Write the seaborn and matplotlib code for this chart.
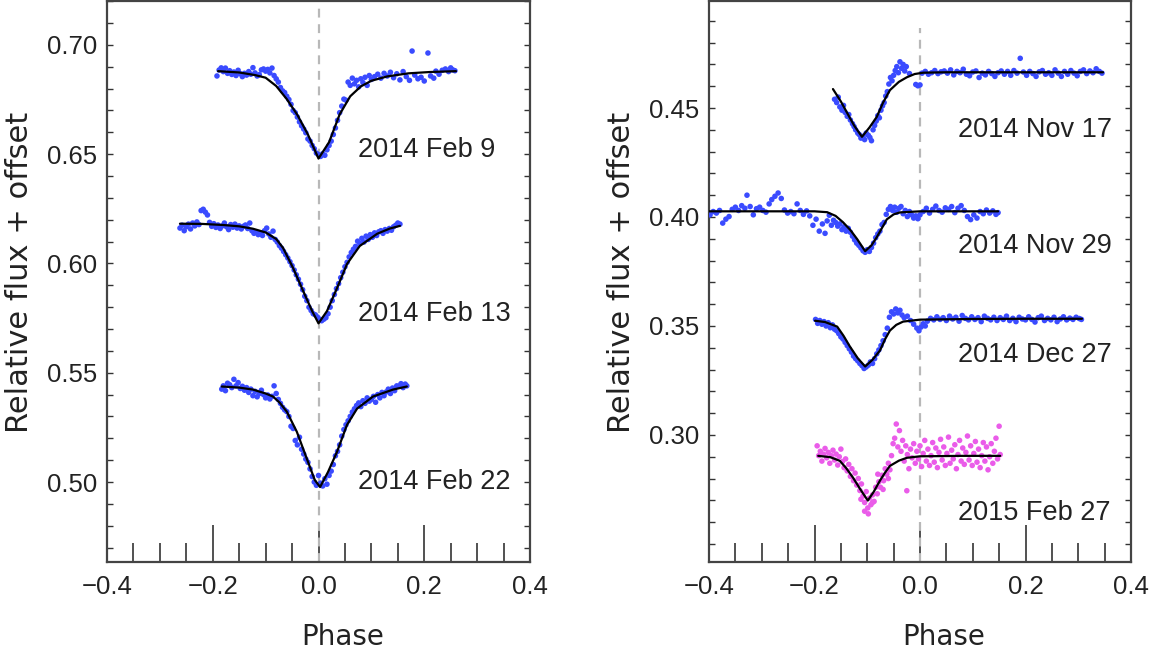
import matplotlib
matplotlib.use("Agg")
import matplotlib.pyplot as plt
import seaborn as sns
import pandas as pd
import numpy as np
from matplotlib.ticker import MultipleLocator

# ---------------- data ----------------
# 2014 Feb 9
feb9_fit_x = [-0.19, -0.15, -0.12, -0.10, -0.08, -0.06, -0.04, -0.02, 0.0, 0.02, 0.04, 0.06, 0.08, 0.10, 0.13, 0.17, 0.21, 0.26]
feb9_fit_y = [0.6880, 0.6874, 0.6862, 0.6850, 0.6812, 0.6752, 0.6680, 0.6590, 0.6480, 0.6555, 0.6682, 0.6765, 0.6810, 0.6836, 0.6856, 0.6870, 0.6876, 0.6880]
feb9_pts = [(-0.192,0.6858),(-0.188,0.6885),(-0.184,0.6895),(-0.180,0.6878),(-0.176,0.6894),(-0.172,0.6870),(-0.168,0.6882),(-0.164,0.6865),(-0.160,0.6876),(-0.156,0.6860),(-0.152,0.6884),(-0.148,0.6868),(-0.144,0.6855),(-0.140,0.6870),(-0.136,0.6862),(-0.132,0.6878),(-0.128,0.6866),(-0.124,0.6896),(-0.120,0.6872),(-0.116,0.6858),(-0.112,0.6864),(-0.108,0.6886),(-0.104,0.6890),(-0.100,0.6880),(-0.096,0.6888),(-0.092,0.6872),(-0.088,0.6894),(-0.084,0.6860),(-0.080,0.6845),(-0.076,0.6830),
            (-0.072,0.6805),(-0.068,0.6790),(-0.064,0.6782),(-0.060,0.6765),(-0.056,0.6750),(-0.052,0.6728),(-0.048,0.6700),(-0.044,0.6690),(-0.040,0.6670),(-0.036,0.6648),(-0.032,0.6630),(-0.028,0.6615),(-0.024,0.6598),(-0.020,0.6570),(-0.016,0.6560),(-0.012,0.6540),(-0.008,0.6525),(-0.004,0.6505),(0.000,0.6498),(0.004,0.6490),(0.008,0.6502),(0.012,0.6495),(0.016,0.6520),(0.020,0.6540),(0.024,0.6560),(0.028,0.6590),(0.032,0.6620),(0.036,0.6655),(0.040,0.6690),(0.044,0.6720),(0.048,0.6752),(0.052,0.6747),
            (0.056,0.6830),(0.060,0.6815),(0.064,0.6848),(0.068,0.6822),(0.072,0.6838),(0.076,0.6808),(0.080,0.6845),(0.084,0.6828),(0.088,0.6852),(0.092,0.6815),(0.096,0.6860),(0.100,0.6842),(0.106,0.6855),(0.112,0.6866),(0.118,0.6848),(0.124,0.6870),(0.130,0.6858),(0.136,0.6875),(0.142,0.6850),(0.148,0.6868),(0.154,0.6840),(0.160,0.6878),(0.166,0.6855),(0.172,0.6838),(0.177,0.6972),(0.182,0.6862),(0.188,0.6845),(0.194,0.6852),(0.200,0.6835),(0.207,0.6963),(0.212,0.6858),(0.218,0.6848),(0.222,0.6880),(0.228,0.6866),(0.234,0.6884),(0.240,0.6890),(0.246,0.6878),(0.250,0.6895),(0.254,0.6886),(0.258,0.6882)]

# 2014 Feb 13
feb13_fit_x = [-0.262, -0.22, -0.18, -0.15, -0.124, -0.10, -0.08, -0.067, -0.048, -0.029, -0.012, 0.0, 0.016, 0.035, 0.054, 0.078, 0.111, 0.135, 0.154]
feb13_fit_y = [0.6182, 0.6181, 0.6176, 0.6170, 0.6159, 0.6142, 0.6112, 0.6071, 0.5979, 0.5874, 0.5782, 0.5726, 0.5782, 0.5887, 0.5998, 0.6080, 0.6136, 0.6160, 0.6172]
feb13_pts = [(-0.262,0.6162),(-0.258,0.6175),(-0.254,0.6150),(-0.250,0.6168),(-0.246,0.6180),(-0.242,0.6158),(-0.238,0.6185),(-0.234,0.6172),(-0.230,0.6190),(-0.226,0.6178),(-0.222,0.6242),(-0.218,0.6248),(-0.214,0.6235),(-0.210,0.6222),(-0.206,0.6188),(-0.202,0.6170),(-0.198,0.6182),(-0.194,0.6165),(-0.190,0.6176),(-0.186,0.6160),(-0.182,0.6172),(-0.178,0.6185),(-0.174,0.6168),(-0.170,0.6155),(-0.166,0.6178),(-0.162,0.6166),(-0.158,0.6180),(-0.154,0.6162),(-0.150,0.6172),(-0.146,0.6158),(-0.142,0.6170),(-0.138,0.6176),(-0.134,0.6160),(-0.130,0.6185),(-0.126,0.6150),(-0.122,0.6138),(-0.118,0.6145),(-0.114,0.6132),(-0.110,0.6140),(-0.106,0.6128),(-0.102,0.6150),(-0.098,0.6162),(-0.094,0.6135),(-0.090,0.6120),(-0.086,0.6148),(-0.082,0.6110),(-0.078,0.6098),
             (-0.074,0.6082),(-0.070,0.6070),(-0.066,0.6055),(-0.062,0.6040),(-0.058,0.6025),(-0.054,0.6008),(-0.050,0.5990),(-0.046,0.5970),(-0.042,0.5948),(-0.038,0.5928),(-0.034,0.5905),(-0.030,0.5880),(-0.026,0.5850),(-0.022,0.5830),(-0.018,0.5800),(-0.014,0.5785),(-0.010,0.5770),(-0.006,0.5765),(-0.002,0.5755),(0.002,0.5745),(0.006,0.5738),(0.010,0.5745),(0.014,0.5752),(0.018,0.5770),(0.022,0.5800),(0.026,0.5830),(0.030,0.5858),(0.034,0.5885),(0.038,0.5908),(0.042,0.5935),(0.046,0.5960),(0.050,0.5985),(0.054,0.6005),(0.058,0.6030),(0.062,0.6050),(0.066,0.6065),(0.070,0.6078),(0.074,0.6102),(0.078,0.6092),(0.082,0.6115),(0.086,0.6098),(0.090,0.6125),(0.094,0.6110),(0.098,0.6132),(0.102,0.6120),(0.106,0.6140),(0.110,0.6128),(0.114,0.6145),(0.118,0.6150),(0.122,0.6138),(0.126,0.6155),(0.130,0.6148),(0.134,0.6160),(0.138,0.6152),(0.142,0.6168),(0.146,0.6175),(0.150,0.6185),(0.154,0.6180)]

# 2014 Feb 22
feb22_fit_x = [-0.183, -0.15, -0.124, -0.10, -0.086, -0.073, -0.060, -0.041, -0.022, -0.007, 0.003, 0.018, 0.035, 0.054, 0.073, 0.103, 0.141, 0.167]
feb22_fit_y = [0.5437, 0.5432, 0.5423, 0.5405, 0.5391, 0.5362, 0.5322, 0.5230, 0.5106, 0.5009, 0.4977, 0.5046, 0.5138, 0.5262, 0.5336, 0.5391, 0.5423, 0.5437]
feb22_pts = [(-0.183,0.5425),(-0.180,0.5440),(-0.176,0.5418),(-0.172,0.5452),(-0.168,0.5445),(-0.164,0.5432),(-0.160,0.5470),(-0.156,0.5440),(-0.152,0.5455),(-0.148,0.5428),(-0.144,0.5438),(-0.140,0.5420),(-0.136,0.5432),(-0.132,0.5410),(-0.128,0.5425),(-0.124,0.5395),(-0.120,0.5415),(-0.116,0.5390),(-0.112,0.5405),(-0.108,0.5420),(-0.104,0.5400),(-0.100,0.5385),(-0.096,0.5398),(-0.092,0.5380),(-0.088,0.5392),(-0.084,0.5440),(-0.080,0.5405),(-0.076,0.5378),(-0.072,0.5360),(-0.068,0.5342),(-0.064,0.5330),(-0.060,0.5322),(-0.056,0.5300),(-0.052,0.5255),(-0.048,0.5245),(-0.044,0.5190),(-0.040,0.5170),(-0.036,0.5205),(-0.032,0.5150),(-0.028,0.5128),(-0.024,0.5105),(-0.020,0.5090),(-0.016,0.5060),(-0.012,0.5025),(-0.008,0.5000),(-0.004,0.4985),(0.000,0.5030),(0.004,0.4995),(0.008,0.4982),(0.012,0.5015),(0.016,0.4990),(0.020,0.5030),(0.024,0.5050),(0.028,0.5080),(0.032,0.5120),(0.036,0.5140),(0.040,0.5170),(0.044,0.5210),(0.048,0.5240),(0.052,0.5262),(0.056,0.5280),(0.060,0.5300),(0.064,0.5320),(0.068,0.5335),(0.072,0.5350),(0.076,0.5362),(0.080,0.5345),(0.084,0.5372),(0.088,0.5360),(0.092,0.5385),(0.096,0.5370),(0.100,0.5378),(0.104,0.5392),(0.108,0.5365),(0.112,0.5400),(0.116,0.5385),(0.120,0.5410),(0.124,0.5395),(0.128,0.5412),(0.132,0.5425),(0.136,0.5405),(0.140,0.5430),(0.144,0.5418),(0.148,0.5440),(0.152,0.5438),(0.156,0.5450),(0.160,0.5432),(0.164,0.5448),(0.167,0.5440)]

# 2014 Nov 17
nov17_fit_x = [-0.165, -0.150, -0.138, -0.125, -0.110, -0.096, -0.082, -0.070, -0.057, -0.040, -0.025, -0.010, 0.006, 0.05, 0.10, 0.20, 0.30, 0.347]
nov17_fit_y = [0.4587, 0.4530, 0.4477, 0.4420, 0.4368, 0.4410, 0.4459, 0.4525, 0.4582, 0.4620, 0.4641, 0.4656, 0.4662, 0.4664, 0.4664, 0.4664, 0.4664, 0.4664]
nov17_pts = [(-0.162,0.4540),(-0.158,0.4525),(-0.155,0.4550),(-0.152,0.4505),(-0.148,0.4490),(-0.145,0.4512),(-0.142,0.4480),(-0.138,0.4462),(-0.135,0.4470),(-0.132,0.4445),(-0.128,0.4428),(-0.125,0.4415),(-0.122,0.4400),(-0.118,0.4385),(-0.115,0.4378),(-0.112,0.4362),(-0.108,0.4370),(-0.105,0.4355),(-0.102,0.4385),(-0.098,0.4375),(-0.095,0.4365),(-0.092,0.4350),(-0.089,0.4400),(-0.086,0.4420),(-0.083,0.4440),(-0.080,0.4465),(-0.077,0.4455),(-0.074,0.4490),(-0.071,0.4510),(-0.068,0.4525),(-0.065,0.4555),(-0.062,0.4575),(-0.059,0.4610),(-0.056,0.4640),(-0.053,0.4625),(-0.050,0.4650),(-0.047,0.4672),(-0.044,0.4690),(-0.041,0.4662),(-0.038,0.4712),(-0.035,0.4682),(-0.032,0.4700),(-0.029,0.4670),(-0.026,0.4690),(-0.020,0.4658),(-0.008,0.4608),(-0.004,0.4602),(0.000,0.4606),
             (0.004,0.4660),(0.010,0.4668),(0.016,0.4655),(0.022,0.4662),(0.028,0.4672),(0.034,0.4658),(0.040,0.4666),(0.046,0.4670),(0.052,0.4660),(0.058,0.4675),(0.064,0.4652),(0.070,0.4668),(0.076,0.4662),(0.082,0.4678),(0.088,0.4655),(0.094,0.4648),(0.100,0.4665),(0.106,0.4670),(0.112,0.4640),(0.118,0.4660),(0.124,0.4652),(0.130,0.4668),(0.136,0.4658),(0.142,0.4645),(0.148,0.4662),(0.154,0.4670),(0.160,0.4655),(0.166,0.4668),(0.172,0.4650),(0.178,0.4672),(0.184,0.4660),(0.190,0.4728),(0.196,0.4665),(0.202,0.4650),(0.208,0.4668),(0.214,0.4658),(0.220,0.4645),(0.226,0.4666),(0.232,0.4672),(0.238,0.4655),(0.244,0.4662),(0.250,0.4650),(0.256,0.4675),(0.262,0.4660),(0.268,0.4645),(0.274,0.4668),(0.280,0.4655),(0.286,0.4672),(0.292,0.4660),(0.298,0.4648),(0.304,0.4668),(0.310,0.4675),(0.316,0.4658),(0.322,0.4670),(0.328,0.4662),(0.334,0.4680),(0.340,0.4668),(0.345,0.4660)]

# 2014 Nov 29
nov29_fit_x = [-0.40, -0.30, -0.20, -0.176, -0.160, -0.146, -0.132, -0.119, -0.104, -0.092, -0.082, -0.072, -0.063, -0.050, -0.038, 0.0, 0.148]
nov29_fit_y = [0.4026, 0.4026, 0.4026, 0.4022, 0.4005, 0.3976, 0.3940, 0.3898, 0.3843, 0.3870, 0.3907, 0.3950, 0.3989, 0.4012, 0.4021, 0.4026, 0.4026]
nov29_pts = [(-0.398,0.4010),(-0.392,0.4025),(-0.386,0.4018),(-0.380,0.4030),(-0.374,0.3972),(-0.368,0.3990),(-0.362,0.4002),(-0.356,0.4035),(-0.350,0.4045),(-0.344,0.4030),(-0.338,0.4052),(-0.332,0.4040),(-0.328,0.4100),(-0.322,0.4048),(-0.316,0.4010),(-0.310,0.4038),(-0.304,0.4045),(-0.298,0.4030),(-0.292,0.4022),(-0.286,0.4060),(-0.281,0.4080),(-0.275,0.4095),(-0.269,0.4110),(-0.263,0.4085),(-0.257,0.4032),(-0.251,0.4018),(-0.245,0.4025),(-0.239,0.4015),(-0.233,0.4060),(-0.227,0.4030),(-0.221,0.4012),(-0.215,0.4028),(-0.209,0.4005),(-0.203,0.3962),(-0.197,0.3990),(-0.191,0.3935),(-0.185,0.3968),(-0.180,0.3925),(-0.176,0.3982),(-0.172,0.4008),(-0.168,0.3962),(-0.164,0.3985),(-0.160,0.3975),(-0.156,0.3958),(-0.152,0.3968),(-0.148,0.3942),(-0.144,0.3955),(-0.140,0.3935),(-0.136,0.3948),(-0.132,0.3930),(-0.128,0.3912),(-0.124,0.3895),(-0.120,0.3880),(-0.116,0.3870),(-0.112,0.3858),(-0.108,0.3845),(-0.104,0.3838),(-0.100,0.3850),(-0.096,0.3842),(-0.092,0.3860),(-0.088,0.3880),(-0.084,0.3905),(-0.080,0.3922),(-0.076,0.3935),(-0.072,0.3965),(-0.068,0.3975),(-0.064,0.4012),(-0.060,0.4035),(-0.056,0.4048),(-0.052,0.4030),(-0.048,0.4045),(-0.044,0.4022),(-0.040,0.4040),(-0.036,0.4048),(-0.032,0.4015),(-0.028,0.4030),(-0.024,0.4002),(-0.020,0.4025),(-0.016,0.4010),(-0.012,0.3995),(-0.008,0.4005),(-0.004,0.3992),(0.000,0.4010),(0.006,0.4025),(0.012,0.4040),(0.018,0.4018),(0.024,0.4035),(0.030,0.4050),(0.036,0.4030),(0.042,0.4022),(0.048,0.4042),(0.054,0.4035),(0.060,0.4048),(0.066,0.4020),(0.072,0.4040),(0.078,0.4052),(0.084,0.4030),(0.090,0.4002),(0.096,0.3988),(0.102,0.4010),(0.108,0.3995),(0.114,0.4025),(0.120,0.4015),(0.126,0.4032),(0.132,0.4018),(0.138,0.4028),(0.144,0.4012),(0.148,0.4020)]

# 2014 Dec 27
dec27_fit_x = [-0.199, -0.180, -0.157, -0.145, -0.133, -0.118, -0.104, -0.090, -0.076, -0.066, -0.057, -0.045, -0.032, 0.0, 0.1, 0.2, 0.307]
dec27_fit_y = [0.3524, 0.3518, 0.3497, 0.3455, 0.3406, 0.3352, 0.3314, 0.3345, 0.3387, 0.3440, 0.3479, 0.3505, 0.3520, 0.3529, 0.3532, 0.3533, 0.3533]
dec27_pts = [(-0.198,0.3530),(-0.194,0.3512),(-0.190,0.3525),(-0.186,0.3508),(-0.182,0.3520),(-0.178,0.3500),(-0.174,0.3515),(-0.170,0.3492),(-0.166,0.3505),(-0.162,0.3485),(-0.158,0.3478),(-0.154,0.3465),(-0.150,0.3450),(-0.146,0.3440),(-0.142,0.3425),(-0.138,0.3410),(-0.134,0.3395),(-0.130,0.3380),(-0.126,0.3362),(-0.122,0.3350),(-0.118,0.3340),(-0.114,0.3328),(-0.110,0.3318),(-0.106,0.3305),(-0.102,0.3312),(-0.098,0.3320),(-0.094,0.3335),(-0.090,0.3328),(-0.086,0.3350),(-0.082,0.3372),(-0.078,0.3390),(-0.074,0.3410),(-0.070,0.3432),(-0.066,0.3460),(-0.062,0.3490),(-0.058,0.3540),(-0.054,0.3565),(-0.050,0.3555),(-0.046,0.3578),(-0.042,0.3560),(-0.038,0.3572),(-0.034,0.3550),(-0.030,0.3538),(-0.024,0.3545),(-0.018,0.3525),(-0.012,0.3508),(-0.006,0.3490),(-0.002,0.3478),(0.002,0.3495),(0.006,0.3510),(0.010,0.3500),(0.014,0.3522),(0.020,0.3535),(0.026,0.3528),(0.032,0.3542),(0.038,0.3530),(0.044,0.3538),(0.050,0.3525),(0.056,0.3545),(0.062,0.3532),(0.068,0.3540),(0.074,0.3522),(0.080,0.3548),(0.086,0.3535),(0.092,0.3528),(0.098,0.3542),(0.104,0.3530),(0.110,0.3538),(0.116,0.3520),(0.122,0.3545),(0.128,0.3535),(0.134,0.3528),(0.140,0.3540),(0.146,0.3525),(0.152,0.3538),(0.158,0.3530),(0.164,0.3545),(0.170,0.3525),(0.176,0.3535),(0.182,0.3520),(0.188,0.3540),(0.194,0.3532),(0.200,0.3528),(0.206,0.3542),(0.212,0.3530),(0.218,0.3518),(0.224,0.3538),(0.230,0.3545),(0.236,0.3525),(0.242,0.3535),(0.248,0.3528),(0.254,0.3540),(0.260,0.3520),(0.266,0.3532),(0.272,0.3542),(0.278,0.3528),(0.284,0.3536),(0.290,0.3530),(0.296,0.3540),(0.302,0.3534),(0.306,0.3530)]

# 2015 Feb 27
feb27_fit_x = [-0.193, -0.170, -0.152, -0.140, -0.127, -0.113, -0.099, -0.088, -0.076, -0.066, -0.057, -0.040, -0.025, 0.0, 0.08, 0.152]
feb27_fit_y = [0.2904, 0.2898, 0.2881, 0.2848, 0.2804, 0.2750, 0.2699, 0.2738, 0.2790, 0.2828, 0.2858, 0.2882, 0.2895, 0.2902, 0.2904, 0.2904]
feb27_pts = [(-0.195,0.2950),(-0.192,0.2905),(-0.189,0.2925),(-0.186,0.2880),(-0.183,0.2912),(-0.180,0.2938),(-0.177,0.2895),(-0.174,0.2920),(-0.171,0.2870),(-0.168,0.2905),(-0.165,0.2930),(-0.162,0.2885),(-0.159,0.2912),(-0.156,0.2862),(-0.153,0.2900),(-0.150,0.2935),(-0.147,0.2878),(-0.144,0.2850),(-0.141,0.2890),(-0.138,0.2835),(-0.135,0.2865),(-0.132,0.2810),(-0.129,0.2845),(-0.126,0.2790),(-0.123,0.2825),(-0.120,0.2770),(-0.117,0.2800),(-0.114,0.2745),(-0.111,0.2775),(-0.108,0.2720),(-0.105,0.2690),(-0.102,0.2740),(-0.099,0.2665),(-0.096,0.2710),(-0.093,0.2680),(-0.090,0.2725),(-0.087,0.2695),(-0.084,0.2760),(-0.081,0.2730),(-0.078,0.2785),(-0.075,0.2760),(-0.072,0.2815),(-0.069,0.2790),(-0.066,0.2845),(-0.063,0.2820),(-0.060,0.2870),(-0.057,0.2840),(-0.054,0.2905),(-0.051,0.2960),(-0.048,0.2985),(-0.045,0.3050),(-0.042,0.2945),(-0.039,0.3020),(-0.036,0.2925),(-0.033,0.2975),(-0.030,0.2880),(-0.027,0.2950),(-0.024,0.2910),(-0.021,0.2845),(-0.018,0.2935),(-0.015,0.2895),(-0.012,0.2960),(-0.009,0.2870),(-0.006,0.2925),(-0.003,0.2890),(0.000,0.2950),(0.003,0.2855),(0.006,0.2915),(0.009,0.2975),(0.012,0.2880),(0.015,0.2935),(0.018,0.2860),(0.021,0.2905),(0.024,0.2965),(0.027,0.2875),(0.030,0.2940),(0.033,0.2850),(0.036,0.2920),(0.039,0.2980),(0.042,0.2885),(0.045,0.2945),(0.048,0.2860),(0.051,0.2915),(0.054,0.2990),(0.057,0.2870),(0.060,0.2930),(0.063,0.2890),(0.066,0.2955),(0.069,0.2845),(0.072,0.2910),(0.075,0.2975),(0.078,0.2880),(0.081,0.2940),(0.084,0.2865),(0.087,0.2920),(0.090,0.2995),(0.093,0.2885),(0.096,0.2950),(0.099,0.2860),(0.102,0.2915),(0.105,0.2970),(0.108,0.2875),(0.111,0.2935),(0.114,0.2850),(0.117,0.2905),(0.120,0.2965),(0.123,0.2880),(0.126,0.2945),(0.129,0.2840),(0.132,0.2900),(0.135,0.2960),(0.138,0.2870),(0.141,0.2925),(0.144,0.2985),(0.147,0.2890),(0.150,0.3040),(0.152,0.2910),
              (-0.105,0.2650),(-0.098,0.2638),(-0.112,0.2705),(-0.090,0.2690),(-0.080,0.2820),(-0.070,0.2750),(-0.060,0.2800),(-0.025,0.2744)]

# labels: (name, text x, text y)
left_labels = [("2014 Feb 9", 0.075, 0.6517), ("2014 Feb 13", 0.075, 0.5768), ("2014 Feb 22", 0.075, 0.5000)]
right_labels = [("2014 Nov 17", 0.072, 0.4400), ("2014 Nov 29", 0.072, 0.3866), ("2014 Dec 27", 0.072, 0.3365), ("2015 Feb 27", 0.072, 0.2644)]

x_ticks = [-0.4, -0.2, 0.0, 0.2, 0.4]
left_yticks = [0.50, 0.55, 0.60, 0.65, 0.70]
right_yticks = [0.30, 0.35, 0.40, 0.45]

BLUE = "#3a4bff"
MAGENTA = "#ea5ce9"

sns.set_theme(style="white")
plt.rcParams['font.family'] = ['Liberation Sans', 'DejaVu Sans']

fig = plt.figure(figsize=(11.6, 6.58), dpi=100)
axL = fig.add_axes([107/1160, 1 - 562/658, 423/1160, 561/658])
axR = fig.add_axes([709/1160, 1 - 562/658, 422/1160, 561/658])


def draw(ax, series):
    for pts, fx, fy, col in series:
        dpts = pd.DataFrame(pts, columns=["phase", "flux"])
        sns.scatterplot(data=dpts, x="phase", y="flux", ax=ax, color=col, s=16,
                        edgecolor="none", linewidth=0, zorder=3)
        dfit = pd.DataFrame({"phase": fx, "flux": fy})
        sns.lineplot(data=dfit, x="phase", y="flux", ax=ax, color="black", lw=1.6,
                     sort=False, estimator=None, zorder=4)


draw(axL, [(feb9_pts, feb9_fit_x, feb9_fit_y, BLUE),
           (feb13_pts, feb13_fit_x, feb13_fit_y, BLUE),
           (feb22_pts, feb22_fit_x, feb22_fit_y, BLUE)])
draw(axR, [(nov17_pts, nov17_fit_x, nov17_fit_y, BLUE),
           (nov29_pts, nov29_fit_x, nov29_fit_y, BLUE),
           (dec27_pts, dec27_fit_x, dec27_fit_y, BLUE),
           (feb27_pts, feb27_fit_x, feb27_fit_y, MAGENTA)])

axL.set_ylim(0.4634, 0.7201)
axR.set_ylim(0.2417, 0.4991)

axL.axvline(0.0, color="#b8b8b8", ls=(0, (4, 3)), lw=1.6, zorder=1)
axR.axvline(0.0, ymin=0.0, ymax=(0.4867 - 0.2417) / (0.4991 - 0.2417),
            color="#b8b8b8", ls=(0, (4, 3)), lw=1.6, zorder=1)

for ax, labels, yt in [(axL, left_labels, left_yticks), (axR, right_labels, right_yticks)]:
    ax.set_xlim(-0.4, 0.4)
    ax.set_xticks(x_ticks)
    ax.set_xticklabels([f"{t:.1f}".replace("-", "\u2212") for t in x_ticks])
    ax.xaxis.set_minor_locator(MultipleLocator(0.05))
    ax.set_yticks(yt)
    ax.set_yticklabels([f"{t:.2f}" for t in yt])
    ax.yaxis.set_minor_locator(MultipleLocator(0.01))
    ax.tick_params(axis="x", which="major", direction="in", length=27, width=1.1,
                   color="#222222", bottom=True, top=False, labelsize=18.5, pad=9,
                   labelcolor="#222222")
    ax.tick_params(axis="x", which="minor", direction="in", length=14, width=1.1,
                   color="#222222", bottom=True, top=False)
    ax.tick_params(axis="y", which="both", direction="in", length=4, width=1.0,
                   color="#333333", left=True, right=True, labelsize=18.5, pad=7,
                   labelcolor="#222222")
    for sp in ax.spines.values():
        sp.set_visible(True)
        sp.set_color("#444444")
        sp.set_linewidth(1.6)
    ax.set_xlabel("Phase", fontsize=20, family=["DejaVu Sans"], color="#222222")
    ax.set_ylabel("Relative flux + offset", fontsize=22, family=["DejaVu Sans"], color="#222222")
    ax.xaxis.set_label_coords(0.557, -0.108)
    ax.yaxis.set_label_coords(-0.172, 0.517)
    for txt, tx, ty in labels:
        ax.text(tx, ty, txt, fontsize=19.5, color="#222222", ha="left", va="center", zorder=5)
    ax.set_facecolor("white")
    ax.grid(False)

fig.savefig("out.png", dpi=100, facecolor="white")
